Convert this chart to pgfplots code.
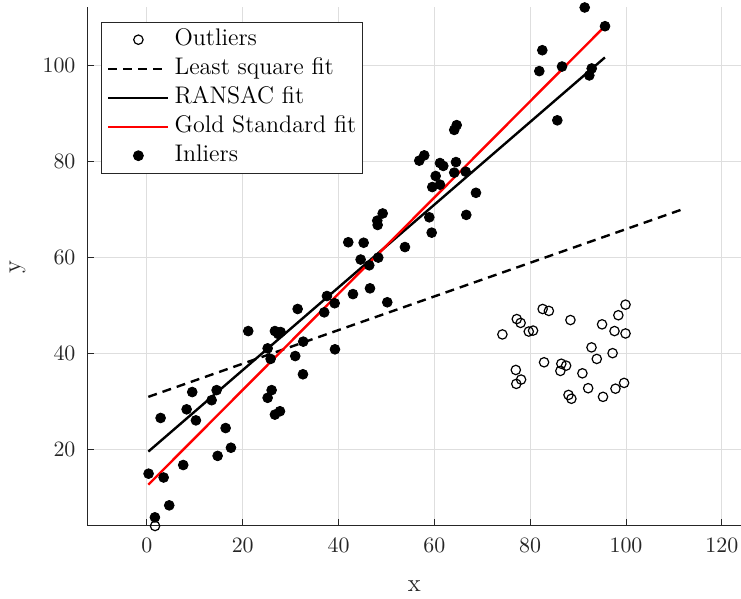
\documentclass[border=0pt]{standalone}
\usepackage{pgfplots}
\pgfplotsset{compat=1.18}
\pgfplotsset{
  linelegend/.style={legend image code/.code={\draw[##1] (0pt,0pt) -- (30pt,0pt);}},
  marklegend/.style={legend image code/.code={\draw[mark repeat=2, mark phase=2, ##1, only marks] plot coordinates {(0pt,0pt) (15pt,0pt) (30pt,0pt)};}},
}
\begin{document}
\begin{tikzpicture}
\useasboundingbox (-43.75pt,-36.5pt) rectangle (326.75pt,263pt);
\begin{axis}[
  scale only axis,
  width=326.75pt, height=259.25pt,
  at={(0pt,0pt)}, anchor=south west,
  xmin=-12.4, xmax=124, ymin=4.0, ymax=112.0,
  axis x line*=bottom, axis y line*=left,
  axis line style={-, draw=black!85, line width=0.5pt},
  xtick={0,20,...,120}, ytick={20,40,...,100},
  tick align=inside, major tick length=3.3pt,
  tick style={draw=black!85, line width=0.5pt},
  grid=major, major grid style={draw=black!13, line width=0.45pt},
  tick label style={font=\fontsize{11}{13}\selectfont, text=black!85},
  xticklabel style={yshift=-2.5pt},
  yticklabel style={xshift=-2.5pt},
  xlabel={x}, ylabel={y},
  label style={font=\fontsize{12.5}{14}\selectfont, text=black!85},
  xlabel style={at={(rel axis cs:0.5,0)}, anchor=center, yshift=-30pt},
  ylabel style={at={(rel axis cs:0,0.5)}, anchor=center, yshift=35pt},
  clip=false,
  legend cell align=left,
  legend style={at={(rel axis cs:0.0202,0.9726)}, anchor=north west,
    draw=black!85, line width=0.5pt, fill=white,
    inner xsep=3pt, inner ysep=3.3pt,
    nodes={inner xsep=0pt, inner ysep=0pt, text height=8.3pt, text depth=2.6pt},
    column sep=2.5pt, row sep=3.6pt,
    font=\fontsize{12}{14}\selectfont},
]
% Outliers
\addplot[only marks, mark=o, mark size=2.35pt, mark options={draw=black, line width=0.6pt}, marklegend]
coordinates {
(74.2,43.9) (77.2,47.1) (78.0,46.3) (79.7,44.5) (80.6,44.7) (82.6,49.2) (83.9,48.8)
(88.4,46.9) (95.0,46.0) (98.4,47.9) (99.9,50.1) (97.6,44.6) (99.9,44.1) (92.8,41.2)
(97.2,40.0) (93.9,38.8) (82.9,38.1) (86.5,37.8) (87.5,37.4) (86.3,36.3) (77.0,36.5)
(78.1,34.5) (77.1,33.6) (90.9,35.8) (92.1,32.7) (88.0,31.3) (88.6,30.5) (95.2,30.9)
(97.8,32.6) (99.6,33.8) (1.7,4.0)
};
\addlegendentry{Outliers}
% Least squares
\addplot[black, line width=1.2pt, dash pattern=on 4.5pt off 3pt, linelegend]
coordinates {(0.3,30.9) (111.6,69.9)};
\addlegendentry{Least square fit}
% RANSAC
\addplot[black, line width=1.2pt, linelegend]
coordinates {(0.3,19.5) (95.6,101.6)};
\addlegendentry{RANSAC fit}
% Gold standard
\addplot[red, line width=1.2pt, linelegend]
coordinates {(0.3,12.6) (95.6,108.1)};
\addlegendentry{Gold Standard fit}
% Inliers
\addplot[only marks, mark=*, mark size=2.45pt, mark options={draw=black, fill=black}, marklegend]
coordinates {
(0.35,14.9) (1.67,5.8) (2.86,26.5) (3.49,14.1) (4.66,8.3) (7.58,16.7) (8.29,28.3)
(9.46,31.9) (10.23,26.0) (13.51,30.2) (14.55,32.3) (14.76,18.6) (16.43,24.4) (17.54,20.3)
(21.15,44.6) (25.2,30.7) (25.2,41.0) (25.82,38.8) (26.03,32.3) (26.72,27.2) (27.77,27.9)
(26.72,44.6) (27.91,44.4) (27.41,44.0) (31.46,49.2) (30.96,39.4) (32.63,42.4) (32.57,35.6)
(37.01,48.5) (37.58,51.9) (39.19,50.4) (39.25,40.8) (42.03,63.1) (43.01,52.3) (44.61,59.5)
(45.24,63.0) (46.41,58.3) (46.56,53.5) (48.16,66.7) (48.08,67.6) (48.29,59.9) (49.21,69.1)
(50.17,50.6) (53.86,62.1) (56.85,80.1) (57.89,81.2) (58.94,68.3) (59.44,65.1) (59.56,74.6)
(60.27,76.9) (61.17,75.1) (61.17,79.6) (61.86,79.0) (64.15,77.6) (64.15,86.5) (64.66,87.5)
(64.51,79.8) (66.53,77.8) (66.66,68.8) (68.68,73.4) (81.9,98.75) (82.53,103.1) (85.66,88.5)
(86.64,99.7) (92.34,97.85) (92.84,99.3) (91.38,112.0) (95.62,108.1)
};
\addlegendentry{Inliers}
\end{axis}
\end{tikzpicture}
\end{document}
